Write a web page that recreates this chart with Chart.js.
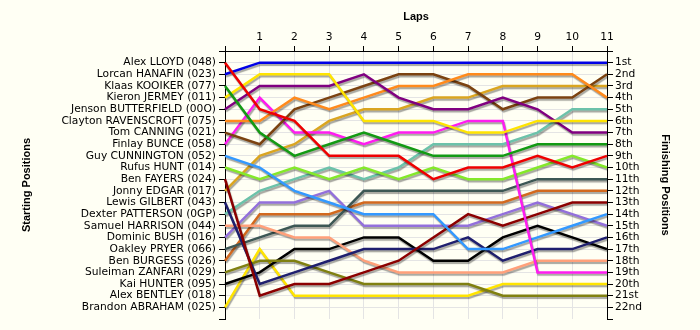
<!DOCTYPE html>
<html>
<head>
<meta charset="utf-8">
<script src="https://cdn.jsdelivr.net/npm/chart.js@4"></script>
<style>
  html, body { margin: 0; padding: 0; background: #fffff4; }
  #wrap { width: 700px; height: 330px; }
</style>
</head>
<body>
<div id="wrap"><canvas id="lapCanvas" width="700" height="330"></canvas></div>
<script>
// lap chart - starting grid on the left, finishing order on the right
var laps = [0, 1, 2, 3, 4, 5, 6, 7, 8, 9, 10, 11];

var startNames = [
  'Alex LLOYD (048)', 'Lorcan HANAFIN (023)', 'Klaas KOOIKER (077)', 'Kieron JERMEY (011)',
  'Jenson BUTTERFIELD (00O)', 'Clayton RAVENSCROFT (075)', 'Tom CANNING (021)', 'Finlay BUNCE (058)',
  'Guy CUNNINGTON (052)', 'Rufus HUNT (014)', 'Ben FAYERS (024)', 'Jonny EDGAR (017)',
  'Lewis GILBERT (043)', 'Dexter PATTERSON (0GP)', 'Samuel HARRISON (044)', 'Dominic BUSH (016)',
  'Oakley PRYER (066)', 'Ben BURGESS (026)', 'Suleiman ZANFARI (029)', 'Kai HUNTER (095)',
  'Alex BENTLEY (018)', 'Brandon ABRAHAM (025)'
];

var finishLabels = [
  '1st', '2nd', '3rd', '4th', '5th', '6th', '7th', '8th', '9th', '10th', '11th',
  '12th', '13th', '14th', '15th', '16th', '17th', '18th', '19th', '20th', '21st', '22nd'
];

// position at the end of each lap (lap 0 = grid)
var posLloyd      = [1, 5, 6, 9, 9, 9, 11, 10, 10, 9, 10, 9];
var posHanafin    = [2, 1, 1, 1, 1, 1, 1, 1, 1, 1, 1, 1];
var posKooiker    = [3, 7, 9, 8, 7, 8, 9, 9, 9, 8, 8, 8];
var posJermey     = [4, 2, 2, 2, 6, 6, 6, 7, 7, 6, 6, 6];
var posButterfield= [5, 3, 3, 3, 2, 4, 5, 5, 4, 5, 7, 7];
var posRavenscroft= [6, 6, 4, 5, 4, 3, 3, 2, 2, 2, 2, 4];
var posCanning    = [7, 8, 5, 4, 3, 2, 2, 3, 5, 4, 4, 2];
var posBunce      = [8, 4, 7, 7, 8, 7, 7, 6, 6, 19, 19, 19];
var posCunnington = [9, 10, 12, 13, 14, 14, 14, 17, 17, 16, 15, 14];
var posHunt       = [10, 11, 10, 11, 10, 11, 10, 11, 11, 10, 9, 10];
var posFayers     = [11, 21, 20, 20, 19, 18, 16, 14, 15, 14, 13, 13];
var posEdgar      = [12, 9, 8, 6, 5, 5, 4, 4, 3, 3, 3, 3];
var posGilbert    = [13, 20, 19, 18, 17, 17, 17, 16, 18, 17, 17, 16];
var posPatterson  = [14, 12, 11, 10, 11, 10, 8, 8, 8, 7, 5, 5];
var posHarrison   = [15, 15, 16, 16, 18, 19, 19, 19, 19, 18, 18, 18];
var posBush       = [16, 13, 13, 12, 15, 15, 15, 15, 14, 13, 14, 15];
var posPryer      = [17, 16, 15, 15, 12, 12, 12, 12, 12, 11, 11, 11];
var posBurgess    = [18, 14, 14, 14, 13, 13, 13, 13, 13, 12, 12, 12];
var posZanfari    = [19, 18, 18, 19, 20, 20, 20, 20, 21, 21, 21, 21];
var posHunter     = [20, 19, 17, 17, 16, 16, 18, 18, 16, 15, 16, 17];
var posAbraham    = [22, 17, 21, 21, 21, 21, 21, 21, 20, 20, 20, 20];

var series = [
  { name: startNames[0],  pos: posLloyd,       color: '#ee0000' },
  { name: startNames[1],  pos: posHanafin,     color: '#0000e6' },
  { name: startNames[2],  pos: posKooiker,     color: '#139a13' },
  { name: startNames[3],  pos: posJermey,      color: '#ffe400' },
  { name: startNames[4],  pos: posButterfield, color: '#800080' },
  { name: startNames[5],  pos: posRavenscroft, color: '#ff8a1c' },
  { name: startNames[6],  pos: posCanning,     color: '#7b4210' },
  { name: startNames[7],  pos: posBunce,       color: '#ff1cf0' },
  { name: startNames[8],  pos: posCunnington,  color: '#3399ff' },
  { name: startNames[9],  pos: posHunt,        color: '#84e82a' },
  { name: startNames[10], pos: posFayers,      color: '#8b0000' },
  { name: startNames[11], pos: posEdgar,       color: '#daa520' },
  { name: startNames[12], pos: posGilbert,     color: '#1f1f6e' },
  { name: startNames[13], pos: posPatterson,   color: '#6cc2aa' },
  { name: startNames[14], pos: posHarrison,    color: '#ffa07a' },
  { name: startNames[15], pos: posBush,        color: '#9370db' },
  { name: startNames[16], pos: posPryer,       color: '#3c5754' },
  { name: startNames[17], pos: posBurgess,     color: '#d2691e' },
  { name: startNames[18], pos: posZanfari,     color: '#808010' },
  { name: startNames[19], pos: posHunter,      color: '#000000' },
  { name: startNames[21], pos: posAbraham,     color: '#ffe400' }
];

var datasets = series.map(function (s) {
  return {
    label: s.name,
    data: s.pos,
    borderColor: s.color,
    backgroundColor: s.color,
    borderWidth: 2.5,
    pointRadius: 0,
    tension: 0,
    fill: false
  };
});

var tickFont = { family: 'DejaVu Sans', size: 10.7 };

// soft grey drop shadow under each line
var lineShadow = {
  id: 'lineShadow',
  beforeDatasetDraw: function (chart) {
    var ctx = chart.ctx;
    ctx.save();
    ctx.shadowColor = 'rgba(0,0,0,0.35)';
    ctx.shadowOffsetX = 1;
    ctx.shadowOffsetY = 2;
    ctx.shadowBlur = 1;
  },
  afterDatasetDraw: function (chart) {
    chart.ctx.restore();
  }
};

// axis titles
var axisTitles = {
  id: 'axisTitles',
  afterDraw: function (chart) {
    var ctx = chart.ctx;
    var a = chart.chartArea;
    var midY = (a.top + a.bottom) / 2;
    ctx.save();
    ctx.fillStyle = '#000';
    ctx.font = 'bold 11px "Liberation Sans"';
    ctx.textAlign = 'center';
    ctx.textBaseline = 'middle';
    ctx.fillText('Laps', (a.left + a.right) / 2, 17);

    ctx.save();
    ctx.translate(27, midY);
    ctx.rotate(-Math.PI / 2);
    ctx.fillText('Starting Positions', 0, 0);
    ctx.restore();

    ctx.save();
    ctx.translate(665, midY);
    ctx.rotate(Math.PI / 2);
    ctx.fillText('Finishing Positions', 0, 0);
    ctx.restore();
    ctx.restore();
  }
};

var ctx = document.getElementById('lapCanvas').getContext('2d');
var lapChart = new Chart(ctx, {
  type: 'line',
  data: { labels: laps, datasets: datasets },
  plugins: [lineShadow, axisTitles],
  options: {
    responsive: false,
    animation: false,
    layout: { padding: { top: 0, left: 0, right: 0, bottom: 11 } },
    plugins: { legend: { display: false }, tooltip: { enabled: false } },
    scales: {
      x: {
        type: 'category',
        position: 'top',
        offset: false,
        afterFit: function (scale) { scale.height = 51; },
        border: { color: '#000', width: 1 },
        grid: { color: '#e4e4e4', tickColor: '#000', tickLength: 5 },
        ticks: {
          color: '#000', font: tickFont, padding: 2, autoSkip: false, maxRotation: 0,
          callback: function (v, i) { return laps[i] === 0 ? '' : String(laps[i]); }
        }
      },
      y: {
        position: 'left',
        reverse: true,
        min: 0,
        max: 23,
        afterFit: function (scale) { scale.width = 225; },
        border: { color: '#000', width: 1 },
        grid: {
          color: function (c) { return c.tick && c.tick.value === 23 ? 'rgba(0,0,0,0)' : '#e4e4e4'; },
          tickColor: '#000', tickLength: 6
        },
        ticks: {
          stepSize: 1, autoSkip: false, color: '#000', font: tickFont, padding: 3,
          callback: function (v) { return startNames[v - 1] || ''; }
        }
      },
      y2: {
        position: 'right',
        reverse: true,
        min: 0,
        max: 23,
        afterFit: function (scale) { scale.width = 93; },
        border: { color: '#000', width: 1 },
        grid: { drawOnChartArea: false, tickColor: '#000', tickLength: 6 },
        ticks: {
          stepSize: 1, autoSkip: false, color: '#000', font: tickFont, padding: 2,
          callback: function (v) { return finishLabels[v - 1] || ''; }
        }
      }
    }
  }
});
</script>
</body>
</html>
